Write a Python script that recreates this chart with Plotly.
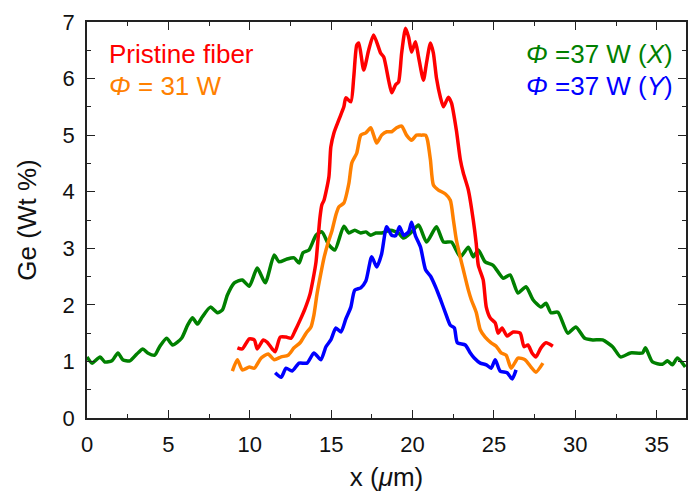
import plotly.graph_objects as go

# Green: Phi = 37 W (X)
green_x = [0.00, 0.31, 0.80, 1.10, 1.53, 1.90, 2.20, 2.63, 3.06, 3.43, 3.73, 4.16, 4.46, 4.89, 5.26, 5.81,
           6.18, 6.48, 6.79, 7.09, 7.58, 8.01, 8.32, 8.62, 9.05, 9.54, 9.97, 10.46, 10.95, 11.50, 11.80,
           12.29, 12.72, 13.03, 13.27, 13.64, 14.07, 14.43, 14.86, 15.23, 15.78, 16.09, 16.45, 16.82,
           17.13, 17.43, 17.74, 18.10, 18.65, 19.14, 19.45, 19.88, 20.37, 20.86, 21.47, 21.90, 22.39,
           22.94, 23.43, 23.73, 24.04, 24.46, 24.95, 25.57, 25.99, 26.48, 26.97, 27.40, 27.89, 28.20,
           28.50, 28.93, 29.54, 30.03, 30.58, 31.07, 31.68, 32.29, 32.78, 33.39, 34.13, 34.31, 34.74,
           35.35, 35.66, 35.96, 36.27, 36.76]
green_y = [1.08, 0.97, 1.08, 0.99, 1.01, 1.15, 1.03, 1.01, 1.13, 1.22, 1.15, 1.11, 1.26, 1.41, 1.29, 1.41,
           1.64, 1.77, 1.66, 1.79, 1.96, 1.86, 1.91, 2.17, 2.39, 2.44, 2.33, 2.65, 2.39, 2.88, 2.76,
           2.81, 2.83, 2.74, 2.92, 2.97, 3.23, 3.29, 3.06, 2.97, 3.39, 3.27, 3.32, 3.27,
           3.29, 3.23, 3.27, 3.27, 3.32, 3.27, 3.18, 3.27, 3.41, 3.11, 3.38, 3.11, 3.11,
           2.85, 3.02, 2.85, 2.97, 2.76, 2.70, 2.47, 2.53, 2.21, 2.32, 2.09, 1.96, 2.03,
           1.86, 1.87, 1.50, 1.61, 1.41, 1.38, 1.38, 1.26, 1.08, 1.15, 1.15, 1.24, 0.99,
           0.95, 1.01, 0.94, 1.06, 0.90]

# Red: Pristine fiber
red_x = [9.24, 9.54, 9.97, 10.28, 10.46, 10.83, 11.07, 11.38, 11.56, 11.87, 12.23, 12.54, 12.78, 13.09,
         13.39, 13.70, 13.88, 14.07, 14.19, 14.31, 14.43, 14.56, 14.86, 14.98, 15.17, 15.47, 15.78,
         15.90, 16.21, 16.39, 16.57, 16.70, 17.00, 17.31, 17.61, 18.04, 18.23, 18.53, 18.72, 18.96,
         19.14, 19.33, 19.57, 19.76, 19.94, 20.18, 20.37, 20.67, 20.86, 21.10, 21.28, 21.47, 21.71,
         21.90, 22.20, 22.39, 22.69, 22.94, 23.12, 23.43, 23.73, 23.91, 24.04, 24.34, 24.53, 24.77,
         25.08, 25.26, 25.50, 25.81, 26.18, 26.61, 26.85, 27.09, 27.34, 27.58, 27.89, 28.20, 28.62]
red_y = [1.24, 1.22, 1.40, 1.38, 1.22, 1.38, 1.34, 1.22, 1.17, 1.43, 1.43, 1.41, 1.54, 1.73,
         1.93, 2.19, 2.44, 2.76, 3.15, 3.54, 3.77, 3.85, 4.26, 4.79, 5.04, 5.27, 5.50,
         5.66, 5.59, 6.03, 6.59, 6.63, 6.15, 6.51, 6.77, 6.45, 6.38, 5.97, 5.75, 5.89,
         5.94, 6.45, 6.89, 6.73, 6.47, 6.65, 6.38, 5.97, 6.28, 6.63, 6.45, 6.01, 5.67,
         5.50, 5.67, 5.57, 5.09, 4.56, 4.33, 4.03, 3.50, 3.09, 2.70, 2.44, 1.96, 1.77,
         1.68, 1.50, 1.59, 1.45, 1.52, 1.50, 1.26, 1.29, 1.15, 1.08, 1.24, 1.33, 1.27]

# Orange: Phi = 31 W
orange_x = [8.93, 9.24, 9.54, 9.97, 10.28, 10.70, 11.13, 11.50, 11.93, 12.35, 12.72, 13.09, 13.46,
            13.76, 13.94, 14.13, 14.37, 14.56, 14.80, 15.05, 15.29, 15.47, 15.78, 16.09, 16.27,
            16.57, 16.82, 17.13, 17.43, 17.61, 17.80, 18.10, 18.41, 18.72, 19.02, 19.33, 19.63,
            19.94, 20.24, 20.55, 20.80, 20.92, 21.10, 21.28, 21.59, 22.02, 22.32, 22.51, 22.69,
            22.94, 23.12, 23.43, 23.61, 23.91, 24.16, 24.46, 24.83, 25.14, 25.44, 25.75, 26.06,
            26.48, 26.91, 27.28, 27.58, 28.01]
orange_y = [0.83, 1.03, 0.85, 0.90, 0.88, 1.06, 1.13, 1.03, 1.08, 1.11, 1.24, 1.33, 1.50,
            1.61, 1.82, 2.19, 2.56, 2.83, 3.09, 3.31, 3.59, 3.73, 3.80, 4.15, 4.51,
            4.68, 5.00, 5.04, 5.13, 5.00, 4.86, 5.00, 5.06, 5.06, 5.13, 5.16, 5.00,
            4.91, 5.00, 5.00, 5.00, 4.91, 4.56, 4.12, 4.03, 3.96, 3.85, 3.50, 3.15,
            2.83, 2.62, 2.26, 2.09, 1.87, 1.56, 1.43, 1.33, 1.27, 1.15, 1.11, 0.88,
            1.06, 1.03, 0.90, 0.81, 0.97]

# Blue: Phi = 37 W (Y)
blue_x = [11.56, 11.93, 12.23, 12.60, 13.03, 13.52, 13.94, 14.37, 14.68, 14.98, 15.29, 15.60, 15.90,
          16.21, 16.45, 16.82, 17.13, 17.49, 17.80, 18.10, 18.41, 18.72, 18.96, 19.20, 19.45, 19.76,
          19.94, 20.18, 20.49, 20.80, 21.10, 21.41, 21.71, 22.02, 22.32, 22.57, 22.75, 23.24, 23.55,
          23.79, 24.16, 24.53, 24.83, 25.08, 25.38, 25.81, 26.12, 26.36]
blue_y = [0.80, 0.72, 0.88, 0.83, 0.97, 0.97, 1.15, 1.03, 1.26, 1.38, 1.59, 1.52, 1.75,
          1.96, 2.26, 2.30, 2.42, 2.85, 2.67, 2.90, 3.38, 3.23, 3.22, 3.38, 3.23, 3.29,
          3.46, 3.22, 3.02, 2.62, 2.51, 2.32, 2.10, 1.86, 1.64, 1.59, 1.33, 1.29, 1.15,
          1.06, 0.97, 0.94, 0.88, 1.03, 0.83, 0.80, 0.69, 0.85]

x_ticks = [0, 5, 10, 15, 20, 25, 30, 35]
y_ticks = [0, 1, 2, 3, 4, 5, 6, 7]

FONT = "Liberation Sans, Arial, sans-serif"

fig = go.Figure()
for xs, ys, col, name in [
    (green_x, green_y, "#008000", "Φ =37 W (X)"),
    (red_x, red_y, "#FF0000", "Pristine fiber"),
    (orange_x, orange_y, "#FF8000", "Φ = 31 W"),
    (blue_x, blue_y, "#0000FF", "Φ =37 W (Y)"),
]:
    fig.add_trace(go.Scatter(x=xs, y=ys, mode="lines", name=name,
                             line=dict(color=col, width=3.5, shape="spline", smoothing=0.6)))

axis_common = dict(
    showline=True, linecolor="#222222", linewidth=1.5, mirror="ticks",
    ticks="inside", ticklen=8, tickwidth=1.3, tickcolor="#222222",
    showgrid=False, zeroline=False,
    tickfont=dict(family=FONT, size=22, color="#111111"),
)

fig.update_layout(
    width=689, height=495,
    margin=dict(l=87, r=1, t=22, b=77),
    paper_bgcolor="white", plot_bgcolor="white",
    showlegend=False,
    font=dict(family=FONT),
    xaxis=dict(range=[0, 36.8], tickvals=x_ticks, ticklabelstandoff=6,
               minor=dict(ticks="inside", ticklen=4, dtick=2.5, tickcolor="#222222"),
               title=dict(text="x (<i>μ</i>m)", font=dict(family=FONT, size=26, color="#111111"), standoff=12),
               **axis_common),
    yaxis=dict(range=[0, 7], tickvals=y_ticks, ticklabelstandoff=6,
               minor=dict(ticks="inside", ticklen=4, dtick=0.5, tickcolor="#222222"),
               title=dict(text="Ge (Wt %)", font=dict(family=FONT, size=26, color="#111111"), standoff=18),
               **axis_common),
)

ann = [
    (1.22, 6.43, "Pristine fiber", "#FF0000"),
    (1.22, 5.87, "<i>Φ</i> = 31 W", "#FF8000"),
    (26.85, 6.43, "<i>Φ</i> =37 W (<i>X</i>)", "#008000"),
    (26.85, 5.87, "<i>Φ</i> =37 W (<i>Y</i>)", "#0000FF"),
]
for x, y, t, c in ann:
    fig.add_annotation(x=x, y=y, xref="x", yref="y", text=t, showarrow=False,
                       xanchor="left", yanchor="middle",
                       font=dict(family=FONT, size=26, color=c))

fig.write_html("out.html")
